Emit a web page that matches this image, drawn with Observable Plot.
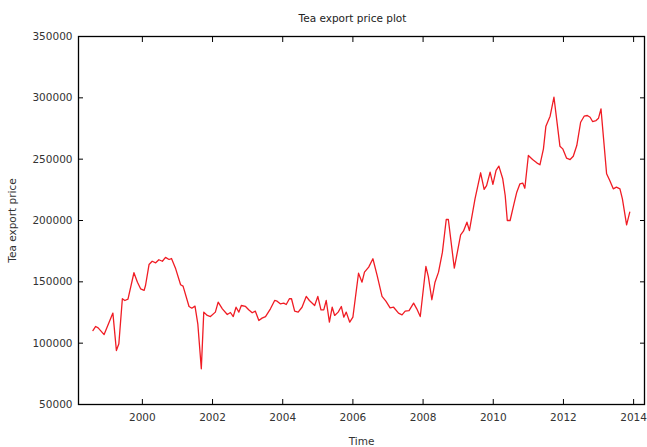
<!DOCTYPE html>
<html>
<head>
<meta charset="utf-8">
<script src="https://cdn.jsdelivr.net/npm/d3@7"></script>
<script src="https://cdn.jsdelivr.net/npm/@observablehq/plot@0.6"></script>
<style>
  html, body { margin: 0; padding: 0; background: #fff; }
  #chart svg { display: block; }
</style>
</head>
<body>
<div id="chart"></div>
<script>
const title = "Tea export price plot";
const xLabel = "Time";
const yLabel = "Tea export price";
const xTicks = [2000, 2002, 2004, 2006, 2008, 2010, 2012, 2014];
const yTicks = [50000, 100000, 150000, 200000, 250000, 300000, 350000];

const times = [
  1998.59, 1998.67, 1998.74, 1998.91, 1999.16, 1999.26, 1999.33, 1999.43, 1999.50, 1999.59,
  1999.76, 1999.86, 1999.95, 2000.05, 2000.09, 2000.19, 2000.28, 2000.38, 2000.47, 2000.57,
  2000.66, 2000.76, 2000.83, 2000.95, 2001.09, 2001.16, 2001.33, 2001.41, 2001.50, 2001.58,
  2001.68, 2001.75, 2001.85, 2001.94, 2002.08, 2002.16, 2002.28, 2002.42, 2002.51, 2002.59,
  2002.67, 2002.75, 2002.82, 2002.94, 2003.03, 2003.13, 2003.22, 2003.32, 2003.41, 2003.51,
  2003.65, 2003.77, 2003.84, 2003.93, 2004.03, 2004.10, 2004.19, 2004.25, 2004.34, 2004.44,
  2004.55, 2004.67, 2004.76, 2004.91, 2005.00, 2005.09, 2005.17, 2005.24, 2005.33, 2005.41,
  2005.48, 2005.58, 2005.67, 2005.74, 2005.81, 2005.91, 2006.00, 2006.16, 2006.26, 2006.33,
  2006.45, 2006.57, 2006.69, 2006.83, 2006.94, 2007.06, 2007.16, 2007.30, 2007.40, 2007.49,
  2007.60, 2007.73, 2007.82, 2007.92, 2008.08, 2008.15, 2008.25, 2008.34, 2008.44, 2008.55,
  2008.66, 2008.72, 2008.89, 2009.07, 2009.15, 2009.25, 2009.32, 2009.48, 2009.64, 2009.74,
  2009.81, 2009.91, 2009.99, 2010.08, 2010.16, 2010.27, 2010.34, 2010.40, 2010.48, 2010.59,
  2010.67, 2010.76, 2010.84, 2010.90, 2011.00, 2011.12, 2011.24, 2011.33, 2011.43, 2011.50,
  2011.62, 2011.73, 2011.90, 2011.98, 2012.09, 2012.19, 2012.28, 2012.38, 2012.49, 2012.59,
  2012.68, 2012.76, 2012.83, 2012.93, 2013.00, 2013.07, 2013.23, 2013.32, 2013.42, 2013.51,
  2013.61, 2013.68, 2013.80, 2013.89
];
const prices = [
  110300, 113600, 112500, 107000, 124500, 94000, 99500, 136200, 134800, 135900,
  157400, 149700, 144300, 143000, 147000, 164100, 166800, 165500, 168000, 166800,
  169900, 168200, 169000, 160600, 147600, 146500, 129900, 128500, 130200, 115800,
  79100, 125300, 122600, 121700, 125300, 133400, 128000, 123400, 125000, 121700,
  129300, 125300, 130700, 129900, 127200, 124800, 126100, 118500, 120400, 121700,
  128000, 134800, 134200, 132100, 132600, 131500, 136200, 136200, 126100, 125300,
  129300, 138100, 134800, 130700, 138100, 127200, 127200, 134800, 117100, 129300,
  122600, 125300, 129900, 121200, 125300, 117100, 121200, 157000, 149700, 157900,
  162000, 168800, 155200, 138100, 134200, 128800, 129300, 124500, 123100, 126100,
  126600, 132600, 128000, 121700, 162500, 154300, 135400, 149700, 157900, 174000,
  200800, 200800, 161100, 188300, 191300, 198600, 191800, 217700, 238900, 225300,
  228500, 239400, 229400, 240800, 244300, 234000, 220400, 200000, 200000, 213600,
  223100, 229900, 230500, 226300, 253000, 249700, 247000, 245400, 258400, 276900,
  285000, 300500, 260600, 258400, 250800, 249700, 252400, 261100, 280100, 285000,
  285600, 284200, 280700, 281500, 283400, 291000, 238100, 232600, 225800, 227200,
  225800, 217700, 196500, 206800
];

const data = times.map((t, i) => ({time: t, price: prices[i]}));
const font = "DejaVu Sans, Verdana, sans-serif";
const textColor = "#333";

const chart = Plot.plot({
  width: 647,
  height: 447,
  marginLeft: 78,
  marginRight: 3,
  marginTop: 36,
  marginBottom: 43,
  style: {fontFamily: font, fontSize: "10px", color: textColor, background: "#fff"},
  x: {domain: [1998.18, 2014.31]},
  y: {domain: [50000, 350000]},
  marks: [
    Plot.frame({stroke: "#000", strokeWidth: 1.3}),
    // labels
    Plot.axisX(xTicks, {anchor: "bottom", tickSize: 0, tickPadding: 9, tickFormat: d => String(d),
      label: xLabel, labelAnchor: "center", labelOffset: 40, labelArrow: false, fontSize: 10.5}),
    Plot.axisY(yTicks, {anchor: "left", tickSize: 0, tickPadding: 6, tickFormat: d => String(d),
      label: yLabel, labelAnchor: "center", labelOffset: 70, labelArrow: false, fontSize: 10.5}),
    // inward ticks on all four sides
    Plot.axisX(xTicks, {anchor: "bottom", tickSize: -5, tickFormat: () => "", label: null, stroke: "#000"}),
    Plot.axisX(xTicks, {anchor: "top", tickSize: -5, tickFormat: () => "", label: null, stroke: "#000"}),
    Plot.axisY(yTicks, {anchor: "left", tickSize: -5, tickFormat: () => "", label: null, stroke: "#000"}),
    Plot.axisY(yTicks, {anchor: "right", tickSize: -5, tickFormat: () => "", label: null, stroke: "#000"}),
    Plot.line(data, {x: "time", y: "price", stroke: "#f01c24", strokeWidth: 1.3}),
    Plot.text([title], {frameAnchor: "top", dy: -22, dx: -9, fontSize: 10.5, fill: "#222"})
  ]
});
document.getElementById("chart").appendChild(chart);
</script>
</body>
</html>
